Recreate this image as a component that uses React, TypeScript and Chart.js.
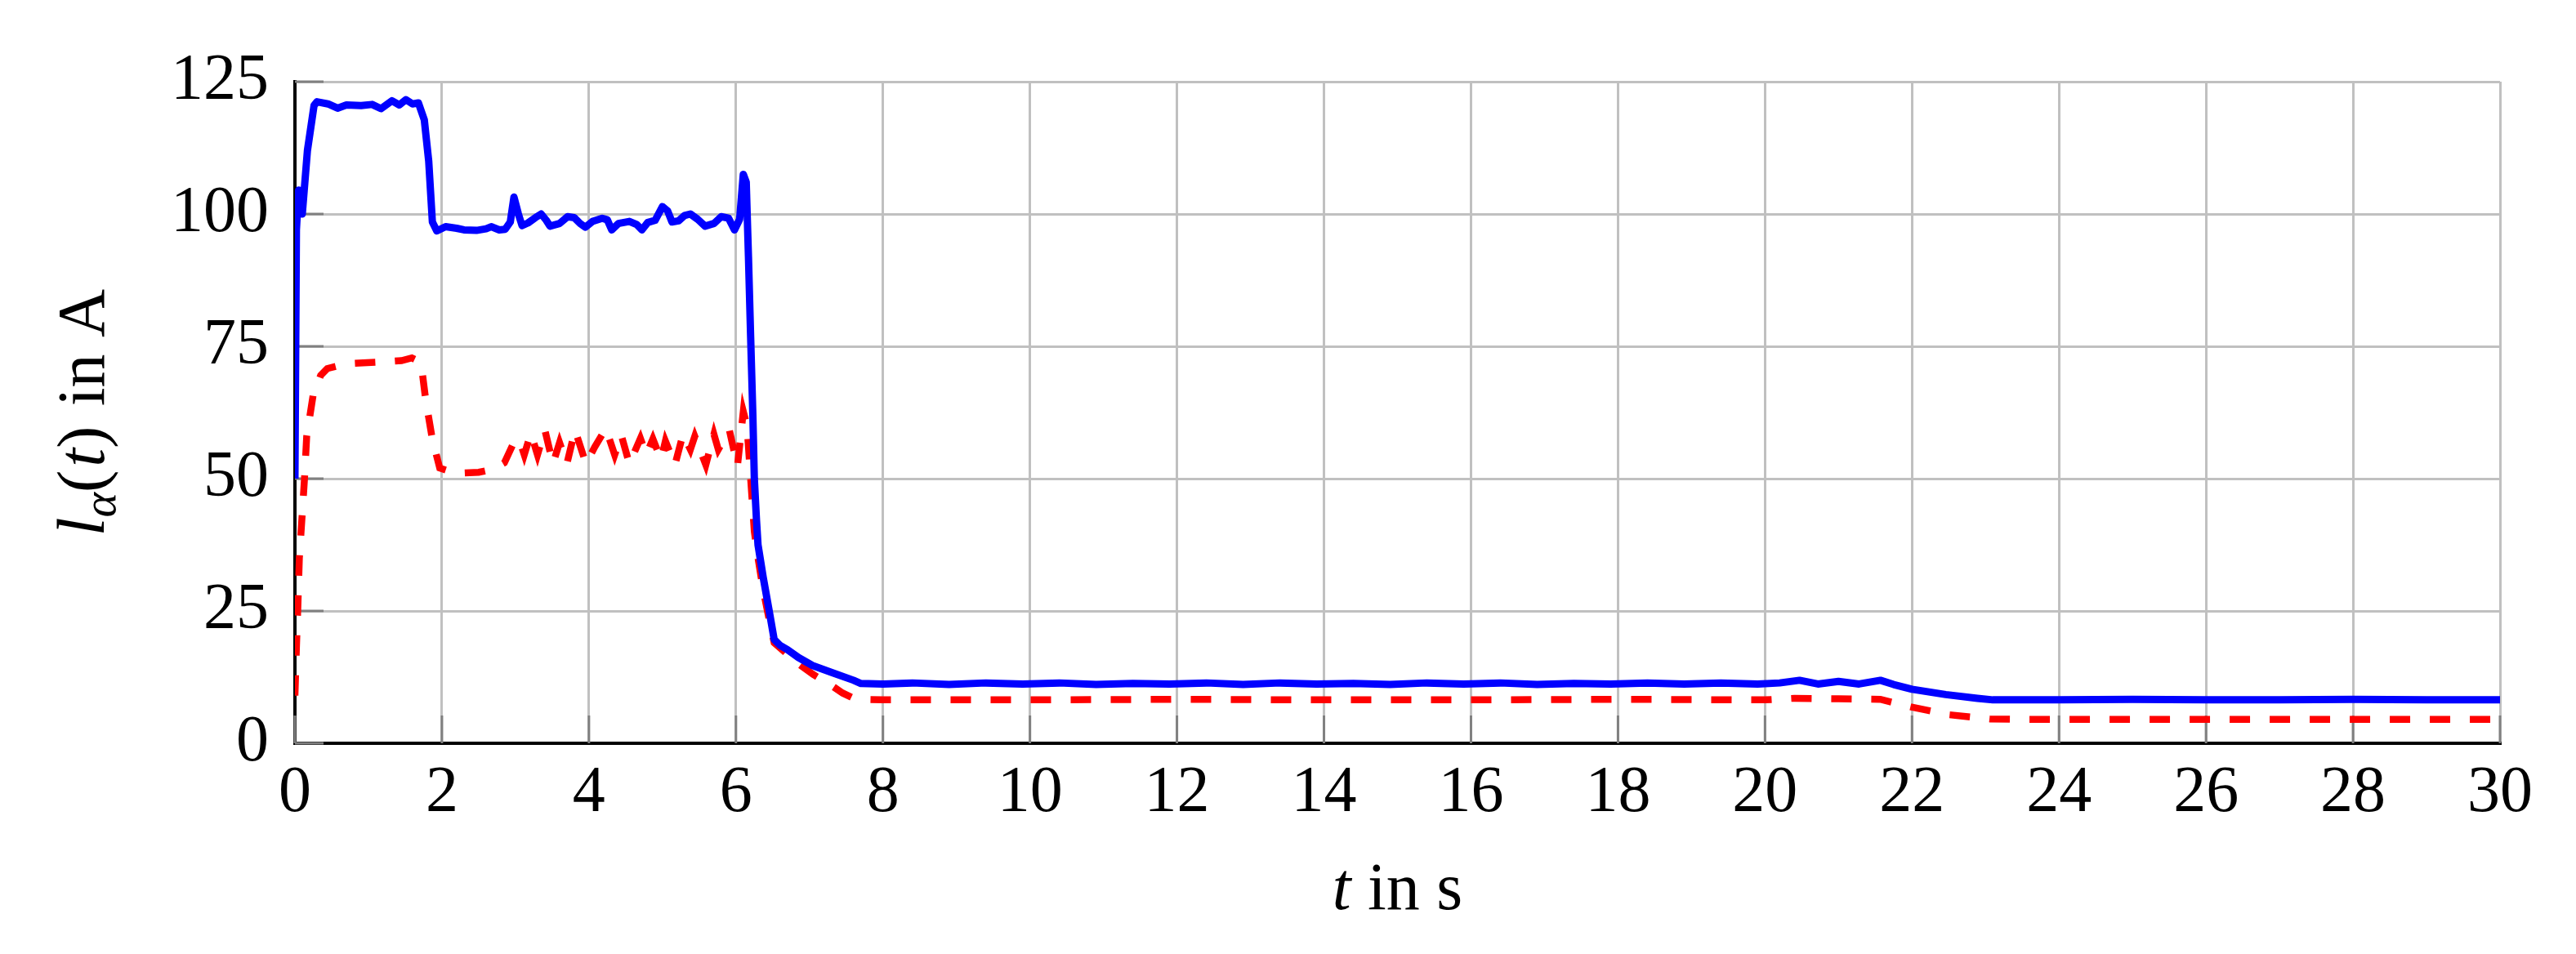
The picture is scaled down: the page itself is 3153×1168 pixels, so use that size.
import React, { useEffect, useRef } from "react";
import { Chart, registerables } from "chart.js";

Chart.register(...registerables);

// ---- data ----
const blueTime = [
  0, 0.02, 0.05, 0.1, 0.17, 0.26, 0.3, 0.45, 0.58, 0.7, 0.9, 1.05, 1.17, 1.32, 1.42, 1.51, 1.6, 1.68,
  1.76, 1.82, 1.87, 1.93, 2.05, 2.2, 2.3, 2.47, 2.6, 2.67, 2.78, 2.86, 2.93, 2.98, 3.04, 3.09, 3.17,
  3.27, 3.35, 3.42, 3.47, 3.6, 3.71, 3.8, 3.88, 3.95, 4.05, 4.18, 4.25, 4.31, 4.4, 4.55, 4.65, 4.72,
  4.8, 4.9, 5.0, 5.07, 5.13, 5.22, 5.3, 5.38, 5.48, 5.58, 5.7, 5.8, 5.9, 5.98, 6.05, 6.1, 6.14, 6.17,
  6.2, 6.23, 6.25, 6.28, 6.3, 6.37, 6.45, 6.52, 6.6, 6.7, 6.85, 7.04, 7.3, 7.6, 7.7, 8.0, 8.4, 8.9,
  9.4, 9.9, 10.4, 10.9, 11.4, 11.9, 12.4, 12.9, 13.4, 13.9, 14.4, 14.9, 15.4, 15.9, 16.4, 16.9, 17.4,
  17.9, 18.4, 18.9, 19.4, 19.9, 20.2, 20.47, 20.72, 21.0, 21.28, 21.57, 21.75, 22.0, 22.46, 22.89,
  23.1, 24, 25, 26, 27, 28, 29, 30,
];
const blueCurrent = [
  50, 97, 104.5, 100, 112, 120.5, 121.2, 120.8, 120, 120.6, 120.5, 120.7, 119.9, 121.4, 120.6, 121.6,
  120.8, 121, 117.8, 110, 98.5, 96.8, 97.6, 97.3, 97, 96.9, 97.2, 97.6, 97, 97.1, 98.5, 103.2, 100,
  97.8, 98.3, 99.3, 100, 98.8, 97.7, 98.2, 99.5, 99.3, 98.2, 97.5, 98.6, 99.2, 98.9, 97, 98.2, 98.6,
  98, 97, 98.4, 98.8, 101.4, 100.6, 98.5, 98.7, 99.7, 100, 99, 97.7, 98.2, 99.5, 99.2, 97, 99, 107.5,
  106, 92, 76.7, 62, 50, 42, 37.5, 31.4, 25.2, 19.6, 18.5, 17.7, 16.2, 14.7, 13.4, 11.9, 11.3, 11.2,
  11.4, 11.1, 11.4, 11.2, 11.4, 11.1, 11.3, 11.2, 11.4, 11.1, 11.4, 11.2, 11.3, 11.1, 11.4, 11.2,
  11.4, 11.1, 11.3, 11.2, 11.4, 11.2, 11.4, 11.2, 11.4, 11.9, 11.2, 11.7, 11.2, 11.9, 11.1, 10.2,
  9.2, 8.5, 8.2, 8.2, 8.3, 8.2, 8.2, 8.3, 8.2, 8.2,
];

const redTime = [
  0, 0.02, 0.04, 0.06, 0.1, 0.13, 0.16, 0.25, 0.35, 0.44, 0.7, 1.12, 1.45, 1.59, 1.68, 1.72, 1.78,
  1.87, 1.97, 2.19, 2.5, 2.7, 2.85, 2.96, 3.05, 3.12, 3.21, 3.3, 3.4, 3.51, 3.6, 3.7, 3.81, 3.96, 4.08,
  4.23, 4.35, 4.44, 4.55, 4.7, 4.78, 4.87, 4.98, 5.04, 5.17, 5.28, 5.38, 5.44, 5.59, 5.7, 5.76, 5.91,
  6.02, 6.1, 6.15, 6.2, 6.25, 6.3, 6.37, 6.45, 6.52, 6.7, 6.85, 7.05, 7.26, 7.45, 7.63, 8.0, 10, 12,
  14, 16, 18, 20, 20.4, 21.0, 21.57, 21.98, 22.5, 23.06, 23.5, 25, 27, 30,
];
const redCurrent = [
  9, 18, 26, 35, 43.5, 50, 58, 66, 69.5, 70.8, 71.7, 72, 72.3, 72.8, 72.2, 71.4, 64.8, 57.4, 52, 51,
  51.2, 51.8, 53, 56.3, 57.5, 54.5, 58.6, 54.5, 59.2, 52.8, 56.8, 52.8, 59.2, 52.8, 56, 59.5, 54.5,
  58.2, 52.8, 57.6, 54.5, 57.5, 53.6, 57.1, 52.6, 58.4, 55.5, 58, 52.6, 58.4, 55.5, 59.2, 52.3, 62.7,
  60, 50, 40, 35, 29, 23.5, 19, 16.8, 15, 13, 11.3, 9.5, 8.3, 8.2, 8.2, 8.3, 8.2, 8.2, 8.3, 8.2, 8.5,
  8.4, 8.3, 6.9, 5.4, 4.6, 4.5, 4.5, 4.5, 4.5,
];

const xTickStep = 2;
const yTickValues = [0, 25, 50, 75, 100, 125];

const FONT = "'Liberation Serif', 'Times New Roman', serif";

const titlesPlugin = {
  id: "customTitles",
  afterDraw(chart: any) {
    const ctx = chart.ctx;
    const area = chart.chartArea;
    ctx.save();
    ctx.fillStyle = "#000";
    ctx.textBaseline = "alphabetic";
    ctx.textAlign = "left";
    // x title: t in s
    const xParts = [
      { t: "t", f: `italic 82px ${FONT}`, dy: 0 },
      { t: " in s", f: `82px ${FONT}`, dy: 0 },
    ];
    let w = 0;
    xParts.forEach((p) => { ctx.font = p.f; w += ctx.measureText(p.t).width; });
    let x = (area.left + area.right) / 2 - w / 2;
    xParts.forEach((p) => { ctx.font = p.f; ctx.fillText(p.t, x, 1113 + p.dy); x += ctx.measureText(p.t).width; });
    // y title: l_alpha(t) in A
    const yParts = [
      { t: "l", f: `italic 82px ${FONT}`, dy: 0 },
      { t: "α", f: `italic 58px ${FONT}`, dy: 14 },
      { t: "(", f: `82px ${FONT}`, dy: 0 },
      { t: "t", f: `italic 82px ${FONT}`, dy: 0 },
      { t: ")", f: `82px ${FONT}`, dy: 0 },
      { t: " in A", f: `82px ${FONT}`, dy: 0 },
    ];
    w = 0;
    yParts.forEach((p) => { ctx.font = p.f; w += ctx.measureText(p.t).width + (p.t === "(" || p.t === ")" ? 4 : 0); });
    ctx.translate(127, (area.top + area.bottom) / 2);
    ctx.rotate(-Math.PI / 2);
    x = -w / 2;
    yParts.forEach((p) => {
      ctx.font = p.f;
      ctx.fillText(p.t, x, p.dy);
      x += ctx.measureText(p.t).width + (p.t === "(" || p.t === ")" ? 4 : 0);
    });
    ctx.restore();
  },
};

const innerTicksPlugin = {
  id: "innerTicks",
  beforeDatasetsDraw(chart: any) {
    const ctx = chart.ctx;
    const area = chart.chartArea;
    const xs = chart.scales.x;
    const ys = chart.scales.y;
    ctx.save();
    ctx.strokeStyle = "#808080";
    ctx.lineWidth = 3;
    ctx.beginPath();
    ys.ticks.forEach((tk: any) => {
      const y = ys.getPixelForValue(tk.value);
      ctx.moveTo(area.left, y);
      ctx.lineTo(area.left + 35, y);
    });
    xs.ticks.forEach((tk: any) => {
      const x = xs.getPixelForValue(tk.value);
      ctx.moveTo(x, area.bottom);
      ctx.lineTo(x, area.bottom - 34);
    });
    ctx.stroke();
    ctx.restore();
  },
};

export default function App() {
  const ref = useRef<HTMLCanvasElement>(null);
  useEffect(() => {
    if (!ref.current) return;
    const chart = new Chart(ref.current, {
      type: "line",
      data: {
        datasets: [
          {
            label: "blue",
            data: blueTime.map((t, i) => ({ x: t, y: blueCurrent[i] })),
            borderColor: "rgb(0,0,255)",
            borderWidth: 9,
            pointRadius: 0,
            tension: 0,
            borderJoinStyle: "round",
            fill: false,
          },
          {
            label: "red",
            data: redTime.map((t, i) => ({ x: t, y: redCurrent[i] })),
            borderColor: "rgb(255,0,0)",
            borderWidth: 8.5,
            borderDash: [25, 24],
            pointRadius: 0,
            tension: 0,
            fill: false,
          },
        ],
      },
      options: {
        animation: false,
        responsive: false,
        devicePixelRatio: 1,
        layout: { padding: { left: 0, right: 93, top: 100, bottom: 0 } },
        plugins: { legend: { display: false }, tooltip: { enabled: false } },
        scales: {
          x: {
            type: "linear",
            min: 0,
            max: 30,
            afterFit: (s: any) => { s.height = 258; },
            ticks: {
              stepSize: xTickStep,
              padding: 14,
              color: "#000",
              font: { family: FONT, size: 80 },
              maxRotation: 0,
            },
            grid: { color: "#c0c0c0", lineWidth: 3, drawTicks: false },
            border: { display: true, color: "#000", width: 4 },
          },
          y: {
            type: "linear",
            min: 0,
            max: 125,
            afterFit: (s: any) => { s.width = 361; },
            afterBuildTicks: (s: any) => { s.ticks = yTickValues.map((v) => ({ value: v })); },
            ticks: {
              padding: 32,
              color: "#000",
              font: { family: FONT, size: 80 },
            },
            grid: { color: "#c0c0c0", lineWidth: 3, drawTicks: false },
            border: { display: true, color: "#000", width: 4 },
          },
        },
      },
      plugins: [titlesPlugin, innerTicksPlugin],
    } as any);
    return () => chart.destroy();
  }, []);
  return (
    <div style={{ position: "fixed", left: 0, top: 0, width: 3153, height: 1168, background: "#fff" }}>
      <canvas ref={ref} width={3153} height={1168} style={{ width: 3153, height: 1168 }} />
    </div>
  );
}
